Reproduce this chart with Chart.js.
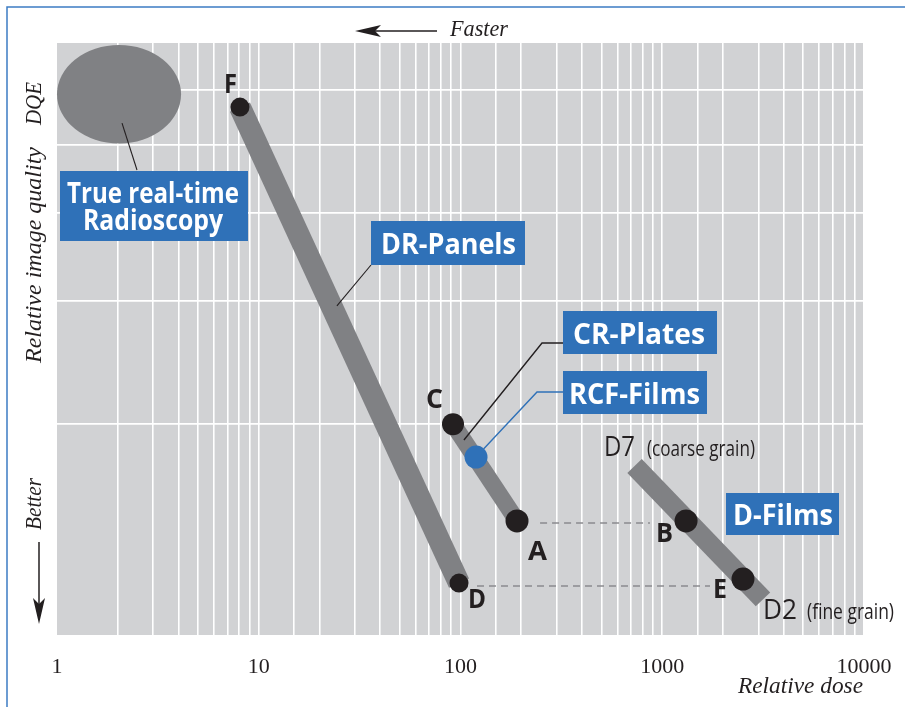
<!DOCTYPE html>
<html>
<head>
<meta charset="utf-8">
<script src="https://cdn.jsdelivr.net/npm/chart.js@4/dist/chart.umd.min.js"></script>
<style>
  html, body { margin: 0; padding: 0; background: #fff; }
  canvas { display: block; }
</style>
</head>
<body>
<canvas id="doseChart" width="905" height="707"></canvas>
<script>
// axis values
const doseTicks = [1, 10, 100, 1000, 10000];
const qualityLines = [2, 3, 4, 5, 6];
const qualityRange = [1, 7];

// bands (start / end of each technology line)
const drDose = [8.07, 98.3];
const drQuality = [5.67, 1.186];
const crDose = [91.8, 190.6];
const crQuality = [2.0, 1.455];
const filmDose = [729, 3157];
const filmQuality = [1.743, 1.124];

// named points
const markNames = ['F', 'C', 'A', 'D', 'B', 'E'];
const markDose = [8.07, 91.8, 190.6, 98.3, 1312, 2513];
const markQuality = [5.67, 2.0, 1.455, 1.186, 1.455, 1.202];

const rcfDose = [119.4];
const rcfQuality = [1.795];

// dashed comparison lines A-B and D-E
const abDose = [248, 869];
const abQuality = [1.445, 1.445];
const deDose = [120.7, 1725];
const deQuality = [1.175, 1.175];

// radioscopy area (dose range, quality range)
const radioscopyDose = [1, 4.12];
const radioscopyQuality = [5.03, 6.955];

const INK = '#231f20';
const BAND = '#808184';
const BLUE = '#2f71b8';

const pts = (xs, ys) => xs.map((x, i) => ({ x: x, y: ys[i] }));

function drawText(ctx, text, x, y, opt) {
    ctx.save();
    ctx.font = opt.font;
    ctx.fillStyle = opt.color || INK;
    ctx.textBaseline = 'alphabetic';
    const w = ctx.measureText(text).width;
    const sx = opt.width ? opt.width / w : 1;
    ctx.translate(x, y);
    if (opt.rotate) ctx.rotate(opt.rotate);
    ctx.scale(sx, 1);
    const align = opt.align || 'center';
    const ox = align === 'center' ? -w / 2 : (align === 'right' ? -w : 0);
    ctx.fillText(text, ox, 0);
    ctx.restore();
}

function polyline(ctx, p, color, width) {
    ctx.save();
    ctx.strokeStyle = color;
    ctx.lineWidth = width;
    ctx.beginPath();
    ctx.moveTo(p[0][0], p[0][1]);
    for (let i = 1; i < p.length; i++) ctx.lineTo(p[i][0], p[i][1]);
    ctx.stroke();
    ctx.restore();
}

// label boxes: rect and text lines [text, centre x, baseline, width]
const labelBoxes = [
    { rect: [60, 171, 188, 70], lines: [['True real-time', 153, 203, 172], ['Radioscopy', 153, 230, 140]] },
    { rect: [371, 221, 154, 44], lines: [['DR-Panels', 448.5, 254, 135]] },
    { rect: [563, 311, 154, 43], lines: [['CR-Plates', 639, 344, 132]] },
    { rect: [563, 371, 144, 43], lines: [['RCF-Films', 634.5, 404, 131]] },
    { rect: [726, 493, 113, 42], lines: [['D-Films', 783, 525, 100]] }
];

// letter offsets from their point, and glyph widths
const markLabelOffsets = [[-9.5, -14], [-18.5, -16], [20.5, 39], [18, 25], [-21.5, 21], [-23, 19]];
const markLabelWidths = [13, 17, 19, 18, 17, 14];

const decor = {
    id: 'decor',
    beforeDraw(chart) {
        const { ctx, chartArea: a } = chart;
        ctx.save();
        ctx.fillStyle = '#ffffff';
        ctx.fillRect(0, 0, chart.width, chart.height);
        ctx.fillStyle = '#d1d2d4';
        ctx.fillRect(a.left, a.top, a.right - a.left, a.bottom - a.top);
        ctx.strokeStyle = '#3d7cc3';
        ctx.lineWidth = 1.5;
        ctx.beginPath();
        ctx.moveTo(7, chart.height);
        ctx.lineTo(7, 7);
        ctx.lineTo(chart.width, 7);
        ctx.stroke();
        ctx.restore();
    },
    beforeDatasetsDraw(chart) {
        const { ctx } = chart;
        const xs = chart.scales.x, ys = chart.scales.y;
        const x1 = xs.getPixelForValue(radioscopyDose[0]);
        const x2 = xs.getPixelForValue(radioscopyDose[1]);
        const y1 = ys.getPixelForValue(radioscopyQuality[1]);
        const y2 = ys.getPixelForValue(radioscopyQuality[0]);
        ctx.save();
        ctx.fillStyle = BAND;
        ctx.beginPath();
        ctx.ellipse((x1 + x2) / 2, (y1 + y2) / 2, (x2 - x1) / 2, (y2 - y1) / 2, 0, 0, Math.PI * 2);
        ctx.fill();
        ctx.restore();
    },
    afterDatasetsDraw(chart) {
        const { ctx } = chart;
        const xs = chart.scales.x, ys = chart.scales.y;
        const px = (d, q) => [xs.getPixelForValue(d), ys.getPixelForValue(q)];

        // leader lines
        polyline(ctx, [px(2.1, 5.38), [137, 170]], INK, 1.1);
        polyline(ctx, [px(24.4, 2.95), [371, 265]], INK, 1.1);
        polyline(ctx, [px(104, 1.898), [542, 343], [563, 343]], INK, 1.4);
        const rc = px(rcfDose[0], rcfQuality[0]);
        const elbow = [537, 392];
        const ang = Math.atan2(elbow[1] - rc[1], elbow[0] - rc[0]);
        const start = [rc[0] + Math.cos(ang) * 11, rc[1] + Math.sin(ang) * 11];
        polyline(ctx, [start, elbow, [563, 392]], BLUE, 1.4);

        // blue label boxes
        labelBoxes.forEach(b => {
            ctx.fillStyle = BLUE;
            ctx.fillRect(b.rect[0], b.rect[1], b.rect[2], b.rect[3]);
            b.lines.forEach(l => drawText(ctx, l[0], l[1], l[2],
                { font: 'bold 28px "Open Sans"', color: '#ffffff', width: l[3] }));
        });

        // point letters
        markNames.forEach((name, i) => {
            const p = px(markDose[i], markQuality[i]);
            drawText(ctx, name, p[0] + markLabelOffsets[i][0], p[1] + markLabelOffsets[i][1],
                { font: 'bold 27px "Open Sans"', width: markLabelWidths[i] });
        });

        // film grain notes
        drawText(ctx, 'D7', 604, 456, { font: '28px "Open Sans"', width: 31, align: 'left' });
        drawText(ctx, '(coarse grain)', 647, 456, { font: '21px "Open Sans"', width: 108, align: 'left' });
        drawText(ctx, 'D2', 763, 619, { font: '28px "Open Sans"', width: 34, align: 'left' });
        drawText(ctx, '(fine grain)', 807, 619, { font: '21px "Open Sans"', width: 87, align: 'left' });

        // axis titles
        const serif = 'italic 23px "Liberation Serif"';
        drawText(ctx, 'Faster', 450, 36, { font: serif, width: 58, align: 'left' });
        drawText(ctx, 'Relative dose', 738, 693, { font: serif, width: 125, align: 'left' });
        drawText(ctx, 'DQE', 41, 103.5, { font: serif, width: 43, rotate: -Math.PI / 2 });
        drawText(ctx, 'Relative image quality', 41, 255, { font: serif, width: 216, rotate: -Math.PI / 2 });
        drawText(ctx, 'Better', 41, 504, { font: serif, width: 52, rotate: -Math.PI / 2 });

        // arrows
        ctx.save();
        ctx.fillStyle = INK;
        polyline(ctx, [[374, 31], [437, 31]], INK, 1.5);
        ctx.beginPath();
        ctx.moveTo(355, 31); ctx.lineTo(381, 25); ctx.lineTo(375, 31); ctx.lineTo(381, 37);
        ctx.closePath();
        ctx.fill();
        polyline(ctx, [[39, 542], [39, 605]], INK, 1.5);
        ctx.beginPath();
        ctx.moveTo(39, 624); ctx.lineTo(33, 598); ctx.lineTo(39, 604); ctx.lineTo(45, 598);
        ctx.closePath();
        ctx.fill();
        ctx.restore();
    }
};

new Chart(document.getElementById('doseChart'), {
    type: 'scatter',
    data: {
        datasets: [
            {
                label: 'Points',
                data: pts(markDose, markQuality),
                showLine: false,
                pointRadius: [9.5, 11, 11.5, 9.5, 11.5, 11.5],
                pointBackgroundColor: INK,
                pointBorderWidth: 0,
                order: 0
            },
            {
                label: 'RCF-Films',
                data: pts(rcfDose, rcfQuality),
                showLine: false,
                pointRadius: 11.5,
                pointBackgroundColor: BLUE,
                pointBorderWidth: 0,
                order: 0
            },
            {
                label: 'DR-Panels',
                data: pts(drDose, drQuality),
                showLine: true,
                borderColor: BAND,
                borderWidth: 22,
                borderCapStyle: 'butt',
                pointRadius: 0,
                order: 2
            },
            {
                label: 'CR-Plates',
                data: pts(crDose, crQuality),
                showLine: true,
                borderColor: BAND,
                borderWidth: 17,
                borderCapStyle: 'butt',
                pointRadius: 0,
                order: 2
            },
            {
                label: 'D-Films',
                data: pts(filmDose, filmQuality),
                showLine: true,
                borderColor: BAND,
                borderWidth: 20,
                borderCapStyle: 'butt',
                pointRadius: 0,
                order: 2
            },
            {
                label: 'A-B',
                data: pts(abDose, abQuality),
                showLine: true,
                borderColor: '#8a8b8e',
                borderWidth: 1.5,
                borderDash: [7, 5],
                pointRadius: 0,
                order: 3
            },
            {
                label: 'D-E',
                data: pts(deDose, deQuality),
                showLine: true,
                borderColor: '#8a8b8e',
                borderWidth: 1.5,
                borderDash: [7, 5],
                pointRadius: 0,
                order: 3
            }
        ]
    },
    options: {
        responsive: false,
        animation: false,
        events: [],
        layout: { padding: { left: 57, top: 43, right: 41, bottom: 0 } },
        plugins: {
            legend: { display: false },
            tooltip: { enabled: false }
        },
        scales: {
            x: {
                type: 'logarithmic',
                min: doseTicks[0],
                max: doseTicks[doseTicks.length - 1],
                border: { display: false },
                grid: {
                    color: c => (c.tick && c.tick.value === doseTicks[0]) ? 'rgba(0,0,0,0)' : '#ffffff',
                    lineWidth: 1.6,
                    drawTicks: false
                },
                ticks: {
                    autoSkip: false,
                    maxRotation: 0,
                    padding: 19,
                    color: INK,
                    font: { family: 'Liberation Serif', size: 22 },
                    callback: v => doseTicks.includes(v) ? String(v) : ''
                },
                afterFit: s => {
                    s.height = 72;
                    // labels may overhang; the layout padding already leaves room
                    s.paddingLeft = 0;
                    s.paddingRight = 0;
                }
            },
            y: {
                type: 'logarithmic',
                min: qualityRange[0],
                max: qualityRange[1],
                border: { display: false },
                grid: { color: '#ffffff', lineWidth: 1.8, drawTicks: false },
                ticks: { display: false },
                afterBuildTicks: s => { s.ticks = qualityLines.map(v => ({ value: v })); },
                afterFit: s => { s.width = 0; }
            }
        }
    },
    plugins: [decor]
});
</script>
</body>
</html>
